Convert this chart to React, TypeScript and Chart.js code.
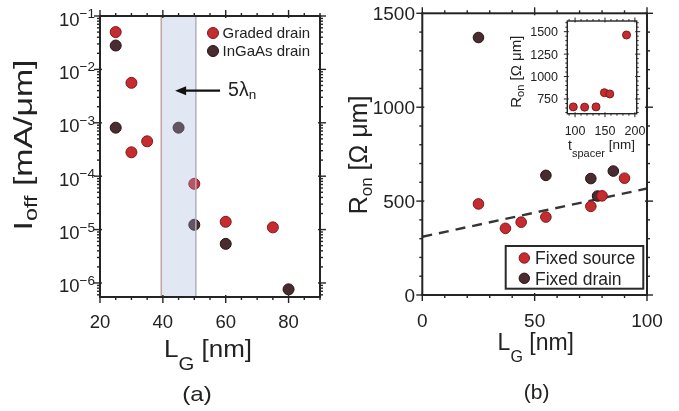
import { useEffect, useRef } from "react";
import { Chart, registerables } from "chart.js";
Chart.register(...registerables);

const FONT = '"Liberation Sans", Arial, Helvetica, sans-serif';
const TEXT = "#222222";
const AXIS = "#242424";
const RED = "#c62b30";
const RED_EDGE = "#7e1a1d";
const DARK = "#4a2b2f";
const DARK_EDGE = "#241315";

// ---------- Panel (a): I_off vs L_G ----------
const gradedLg = [25, 30, 30, 35, 50, 60, 75];
const gradedIoff = [5.0e-2, 5.6e-3, 2.8e-4, 4.5e-4, 7.2e-5, 1.4e-5, 1.1e-5];
const ingaasLg = [25, 25, 45, 50, 60, 80];
const ingaasIoff = [2.8e-2, 8.1e-4, 8.1e-4, 1.23e-5, 5.4e-6, 7.6e-7];
const aXRange = [20, 90];
const aYRange = [5.46e-7, 0.1];
const aXTicks = [20, 40, 60, 80];
const aXMinorStep = 5;
const aYExponents = [-1, -2, -3, -4, -5, -6];
const shadeRange = [39.5, 50.5];
const arrowFromLg = 58.2;
const arrowToLg = 43.9;
const arrowIoff = 4.0e-3;
const aLegend = ["Graded drain", "InGaAs drain"];

// ---------- Panel (b): R_on vs L_G ----------
const sourceLg = [25, 37, 44, 55, 75, 80, 90];
const sourceRon = [485, 355, 388, 415, 472, 528, 622];
const drainLg = [25, 55, 75, 78, 85];
const drainRon = [1371, 637, 620, 527, 660];
const fitLg = [0, 100];
const fitRon = [310, 567];
const bXRange = [0, 100];
const bYRange = [0, 1500];
const bXTicks = [0, 50, 100];
const bXMinorStep = 10;
const bYTicks = [0, 500, 1000, 1500];
const bYMinorStep = 100;
const bLegend = ["Fixed source", "Fixed drain"];

// ---------- Inset: R_on vs t_spacer ----------
const spacerT = [97, 116, 135, 149, 158, 186];
const spacerRon = [662, 659, 662, 820, 806, 1463];
const iXRange = [87, 203];
const iYRange = [586, 1619];
const iXTicks = [100, 150, 200];
const iXMinorStep = 10;
const iYTicks = [750, 1000, 1250, 1500];
const iYMinorStep = 50;

type Part = { t: string; size: number; dy?: number };

function richWidth(ctx: CanvasRenderingContext2D, parts: Part[]) {
  let w = 0;
  for (const p of parts) {
    ctx.font = `${p.size}px ${FONT}`;
    w += ctx.measureText(p.t).width;
  }
  return w;
}

function drawRich(
  ctx: CanvasRenderingContext2D,
  x: number,
  y: number,
  parts: Part[],
  align: "left" | "center" | "right",
  stretch = 1,
  rotate = false
) {
  ctx.save();
  ctx.translate(x, y);
  if (rotate) ctx.rotate(-Math.PI / 2);
  ctx.scale(stretch, 1);
  ctx.fillStyle = TEXT;
  ctx.textBaseline = "alphabetic";
  ctx.textAlign = "left";
  const w = richWidth(ctx, parts);
  let cx = align === "left" ? 0 : align === "center" ? -w / 2 : -w;
  for (const p of parts) {
    ctx.font = `${p.size}px ${FONT}`;
    ctx.fillText(p.t, cx, p.dy || 0);
    cx += ctx.measureText(p.t).width;
  }
  ctx.restore();
}

function seg(ctx: CanvasRenderingContext2D, x1: number, y1: number, x2: number, y2: number) {
  ctx.beginPath();
  ctx.moveTo(x1, y1);
  ctx.lineTo(x2, y2);
  ctx.stroke();
}

type Tk = { px: number; major: boolean };
function drawFrame(
  ctx: CanvasRenderingContext2D,
  area: { left: number; right: number; top: number; bottom: number },
  xs: Tk[],
  ys: Tk[],
  o: { lw: number; majOut: number; majIn: number; minOut: number; tlw: number }
) {
  ctx.save();
  ctx.strokeStyle = AXIS;
  ctx.lineWidth = o.tlw;
  for (const t of xs) {
    seg(ctx, t.px, area.bottom - (t.major ? o.majIn : 0), t.px, area.bottom + (t.major ? o.majOut : o.minOut));
    seg(ctx, t.px, area.top + (t.major ? o.majIn : 0), t.px, area.top - (t.major ? o.majOut : o.minOut));
  }
  for (const t of ys) {
    seg(ctx, area.left + (t.major ? o.majIn : 0), t.px, area.left - (t.major ? o.majOut : o.minOut), t.px);
    seg(ctx, area.right - (t.major ? o.majIn : 0), t.px, area.right + (t.major ? o.majOut : o.minOut), t.px);
  }
  ctx.lineWidth = o.lw;
  ctx.strokeRect(area.left, area.top, area.right - area.left, area.bottom - area.top);
  ctx.restore();
}

function linearTicks(scale: any, range: number[], step: number, majors: number[]): Tk[] {
  const out: Tk[] = [];
  const start = Math.ceil(range[0] / step) * step;
  for (let v = start; v <= range[1] + 1e-9; v += step) {
    out.push({ px: scale.getPixelForValue(v), major: majors.some((m) => Math.abs(m - v) < 1e-6) });
  }
  return out;
}

function marker(ctx: CanvasRenderingContext2D, x: number, y: number, r: number, fill: string, edge: string) {
  ctx.save();
  ctx.beginPath();
  ctx.arc(x, y, r, 0, Math.PI * 2);
  ctx.fillStyle = fill;
  ctx.fill();
  ctx.lineWidth = 1;
  ctx.strokeStyle = edge;
  ctx.stroke();
  ctx.restore();
}

const pts = (xs: number[], ys: number[]) => xs.map((x, i) => ({ x, y: ys[i] }));

function scatterSet(label: string, xs: number[], ys: number[], fill: string, edge: string, r: number) {
  return {
    label,
    data: pts(xs, ys),
    showLine: false,
    pointRadius: r,
    pointBackgroundColor: fill,
    pointBorderColor: edge,
    pointBorderWidth: 1,
    pointHoverRadius: r,
  };
}

function makeA(canvas: HTMLCanvasElement) {
  const plugin = {
    id: "panelA",
    afterDatasetsDraw(chart: any) {
      const { ctx, chartArea: a, scales } = chart;
      const x = scales.x;
      const l = x.getPixelForValue(shadeRange[0]);
      const r = x.getPixelForValue(shadeRange[1]);
      ctx.save();
      ctx.fillStyle = "rgba(160,178,214,0.3)";
      ctx.fillRect(l, a.top, r - l, a.bottom - a.top);
      ctx.lineWidth = 1.6;
      ctx.strokeStyle = "rgba(196,160,160,0.95)";
      seg(ctx, l, a.top, l, a.bottom);
      ctx.strokeStyle = "rgba(176,176,186,0.95)";
      seg(ctx, r, a.top, r, a.bottom);
      ctx.restore();
    },
    afterDraw(chart: any) {
      const { ctx, chartArea: a, scales } = chart;
      const x = scales.x;
      const y = scales.y;
      const ys: Tk[] = [];
      for (let e = -7; e <= -1; e++) {
        for (let m = 1; m <= 9; m++) {
          const v = m * Math.pow(10, e);
          if (v >= aYRange[0] * 0.999 && v <= aYRange[1] * 1.001) ys.push({ px: y.getPixelForValue(v), major: m === 1 });
        }
      }
      const xs = linearTicks(x, aXRange, aXMinorStep, aXTicks);
      drawFrame(ctx, a, xs, ys, { lw: 2, majOut: 6, majIn: 2, minOut: 3, tlw: 1.4 });
      for (const v of aXTicks) drawRich(ctx, x.getPixelForValue(v), 328.3, [{ t: String(v), size: 18.5 }], "center");
      for (const e of aYExponents) {
        const py = y.getPixelForValue(Math.pow(10, e));
        drawRich(ctx, 95, py + 9.5, [{ t: "10", size: 18.5 }, { t: "\u2212" + Math.abs(e), size: 13.5, dy: -7.5 }], "right");
      }
      const ay = y.getPixelForValue(arrowIoff);
      const ax0 = x.getPixelForValue(arrowFromLg);
      const ax1 = x.getPixelForValue(arrowToLg);
      ctx.save();
      ctx.strokeStyle = "#111";
      ctx.fillStyle = "#111";
      ctx.lineWidth = 2.2;
      seg(ctx, ax0, ay, ax1 + 8, ay);
      ctx.beginPath();
      ctx.moveTo(ax1, ay);
      ctx.lineTo(ax1 + 11, ay - 4.5);
      ctx.lineTo(ax1 + 11, ay + 4.5);
      ctx.closePath();
      ctx.fill();
      ctx.restore();
      drawRich(ctx, ax0 + 8, ay + 5, [{ t: "5\u03bb", size: 19.5 }, { t: "n", size: 13.5, dy: 3.5 }], "left");
      const rows = [33, 51];
      const cols = [[RED, RED_EDGE], [DARK, DARK_EDGE]];
      rows.forEach((ry, i) => {
        marker(ctx, 213, ry, 5.5, cols[i][0], cols[i][1]);
        drawRich(ctx, 222.5, ry + 5.4, [{ t: aLegend[i], size: 15 }], "left");
      });
      drawRich(ctx, 32, 145, [{ t: "I", size: 26 }, { t: "off", size: 18, dy: 5 }, { t: " [mA/\u03bcm]", size: 26 }], "center", 1.3, true);
      drawRich(ctx, 208, 356.7, [{ t: "L", size: 23 }, { t: "G", size: 18, dy: 13 }, { t: " [nm]", size: 23 }], "center", 1.13);
      drawRich(ctx, 197, 400.5, [{ t: "(a)", size: 21 }], "center", 1.15);
    },
  };
  return new Chart(canvas, {
    type: "scatter",
    data: {
      datasets: [
        scatterSet(aLegend[0], gradedLg, gradedIoff, RED, RED_EDGE, 5.5) as any,
        scatterSet(aLegend[1], ingaasLg, ingaasIoff, DARK, DARK_EDGE, 5.5) as any,
      ],
    },
    options: {
      responsive: false,
      animation: false,
      devicePixelRatio: 1,
      layout: { padding: { left: 100, right: 20, top: 16, bottom: 114 } },
      scales: {
        x: { type: "linear", min: aXRange[0], max: aXRange[1], display: false },
        y: { type: "logarithmic", min: aYRange[0], max: aYRange[1], display: false },
      },
      plugins: { legend: { display: false }, tooltip: { enabled: false } },
      events: [],
    },
    plugins: [plugin],
  });
}

function makeB(canvas: HTMLCanvasElement) {
  const plugin = {
    id: "panelB",
    afterDraw(chart: any) {
      const { ctx, chartArea: a, scales } = chart;
      const x = scales.x;
      const y = scales.y;
      const xs = linearTicks(x, bXRange, bXMinorStep, bXTicks);
      const ys = linearTicks(y, bYRange, bYMinorStep, bYTicks);
      drawFrame(ctx, a, xs, ys, { lw: 2, majOut: 6, majIn: 2, minOut: 3, tlw: 1.4 });
      for (const v of bXTicks) drawRich(ctx, x.getPixelForValue(v), 327, [{ t: String(v), size: 19 }], "center");
      for (const v of bYTicks) drawRich(ctx, 75, y.getPixelForValue(v) + 6.8, [{ t: String(v), size: 19 }], "right");
      ctx.save();
      ctx.fillStyle = "#fff";
      ctx.fillRect(165.7, 246, 137.6, 42.7);
      ctx.strokeStyle = "#2a2a2a";
      ctx.lineWidth = 2;
      ctx.strokeRect(165.7, 246, 137.6, 42.7);
      ctx.restore();
      const rows = [258, 278.3];
      const cols = [[RED, RED_EDGE], [DARK, DARK_EDGE]];
      rows.forEach((ry, i) => {
        marker(ctx, 184.3, ry, 5.2, cols[i][0], cols[i][1]);
        drawRich(ctx, 195, ry + 6.2, [{ t: bLegend[i], size: 17.5 }], "left");
      });
      drawRich(ctx, 26.7, 155, [{ t: "R", size: 25 }, { t: "on", size: 17, dy: 5 }, { t: " [\u03a9 \u03bcm]", size: 25 }], "center", 1, true);
      drawRich(ctx, 195.8, 350, [{ t: "L", size: 23 }, { t: "G", size: 16, dy: 12 }, { t: " [nm]", size: 23 }], "center");
      drawRich(ctx, 196.7, 399, [{ t: "(b)", size: 21 }], "center");
    },
  };
  return new Chart(canvas, {
    type: "scatter",
    data: {
      datasets: [
        scatterSet(bLegend[0], sourceLg, sourceRon, RED, RED_EDGE, 5.3) as any,
        scatterSet(bLegend[1], drainLg, drainRon, DARK, DARK_EDGE, 5.3) as any,
        {
          label: "fit",
          data: pts(fitLg, fitRon),
          showLine: true,
          borderColor: "#353535",
          borderWidth: 2.4,
          borderDash: [10, 7],
          pointRadius: 0,
          fill: false,
        } as any,
      ],
    },
    options: {
      responsive: false,
      animation: false,
      devicePixelRatio: 1,
      layout: { padding: { left: 82.3, right: 32, top: 13.3, bottom: 116 } },
      scales: {
        x: { type: "linear", min: bXRange[0], max: bXRange[1], display: false },
        y: { type: "linear", min: bYRange[0], max: bYRange[1], display: false },
      },
      plugins: { legend: { display: false }, tooltip: { enabled: false } },
      events: [],
    },
    plugins: [plugin],
  });
}

function makeInset(canvas: HTMLCanvasElement) {
  const plugin = {
    id: "inset",
    afterDraw(chart: any) {
      const { ctx, chartArea: a, scales } = chart;
      const x = scales.x;
      const y = scales.y;
      const xs = linearTicks(x, iXRange, iXMinorStep, iXTicks);
      const ys = linearTicks(y, iYRange, iYMinorStep, iYTicks);
      drawFrame(ctx, a, xs, ys, { lw: 1.4, majOut: 3.5, majIn: 1.5, minOut: 2, tlw: 1 });
      for (const v of iXTicks) drawRich(ctx, x.getPixelForValue(v), 135, [{ t: String(v), size: 12.5 }], "center");
      for (const v of iYTicks) drawRich(ctx, 78, y.getPixelForValue(v) + 4.5, [{ t: String(v), size: 12.5 }], "right");
      drawRich(ctx, 40.7, 71.7, [{ t: "R", size: 15 }, { t: "on", size: 11, dy: 3.5 }, { t: " [\u03a9 \u03bcm]", size: 15 }], "center", 1, true);
      drawRich(ctx, 88, 150, [{ t: "t", size: 14 }, { t: "spacer", size: 11, dy: 6.7 }, { t: " [nm]", size: 13.5, dy: -1 }], "left");
    },
  };
  return new Chart(canvas, {
    type: "scatter",
    data: {
      datasets: [scatterSet("Fixed source", spacerT, spacerRon, RED, RED_EDGE, 4) as any],
    },
    options: {
      responsive: false,
      animation: false,
      devicePixelRatio: 1,
      layout: { padding: { left: 87.3, right: 38.3, top: 21, bottom: 61.3 } },
      scales: {
        x: { type: "linear", min: iXRange[0], max: iXRange[1], display: false },
        y: { type: "linear", min: iYRange[0], max: iYRange[1], display: false },
      },
      plugins: { legend: { display: false }, tooltip: { enabled: false } },
      events: [],
    },
    plugins: [plugin],
  });
}

export default function App() {
  const aRef = useRef<HTMLCanvasElement>(null);
  const bRef = useRef<HTMLCanvasElement>(null);
  const iRef = useRef<HTMLCanvasElement>(null);
  useEffect(() => {
    const charts = [makeA(aRef.current!), makeB(bRef.current!), makeInset(iRef.current!)];
    return () => charts.forEach((c) => c.destroy());
  }, []);
  return (
    <div style={{ position: "fixed", left: 0, top: 0, width: 679, height: 411, background: "#fff", overflow: "hidden" }}>
      <canvas ref={aRef} width={340} height={411} style={{ position: "absolute", left: 0, top: 0 }} />
      <canvas ref={bRef} width={339} height={411} style={{ position: "absolute", left: 340, top: 0 }} />
      <canvas ref={iRef} width={195} height={175} style={{ position: "absolute", left: 480, top: 0 }} />
    </div>
  );
}
